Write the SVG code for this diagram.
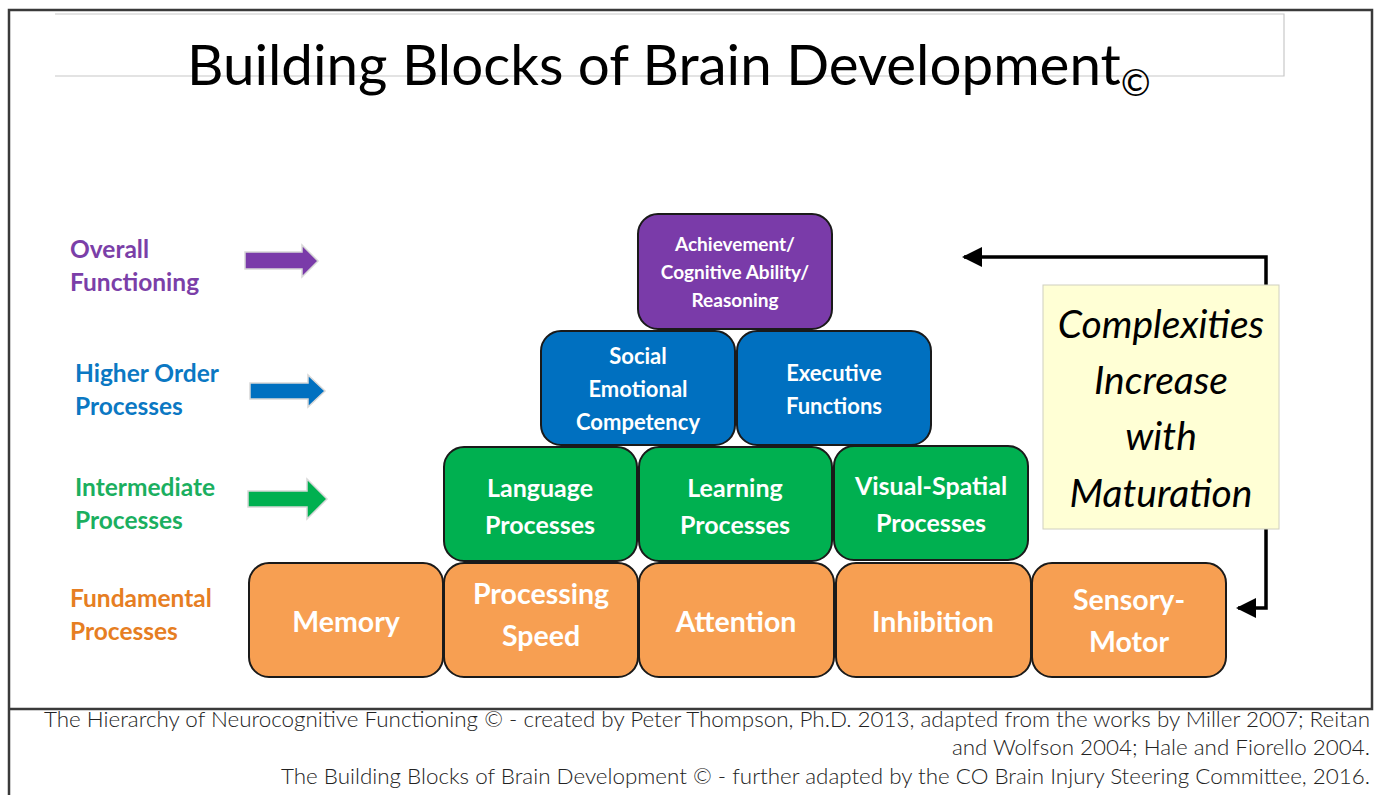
<svg xmlns="http://www.w3.org/2000/svg" width="1374" height="795" viewBox="0 0 1374 795">
<style>
.blk{stroke:#1a1a1a;stroke-width:2}
.or{fill:#F79F52}.gr{fill:#00B050}.bl{fill:#0070C0}.pu{fill:#7A3BA9}
.bt{font-family:Lato,"Liberation Sans",sans-serif;font-weight:bold;fill:#fff;text-anchor:middle}
.lab{font-family:Lato,"Liberation Sans",sans-serif;font-weight:bold;font-size:24.5px}
.ft{font-family:Lato,"Liberation Sans",sans-serif;font-size:22.4px;fill:#222;text-anchor:end;font-weight:300}
.con{stroke:#000;stroke-width:3.5;fill:none}
.ar{stroke:#d8d8d8;stroke-width:1.5}
</style>
<defs>
<marker id="ah" markerWidth="20" markerHeight="20" refX="18" refY="10" orient="auto" markerUnits="userSpaceOnUse"><path d="M0,0 L20,10 L0,20 Z" fill="#000"/></marker>
</defs>
<rect width="1374" height="795" fill="#fff"/>
<!-- frame -->
<path d="M9,795 V10 H1372 V709 H9" fill="none" stroke="#3a3a3a" stroke-width="2.5"/>
<path d="M55,14 H1284 V76 H55" fill="none" stroke="#c8c8c8" stroke-width="1.2"/>
<g id="title">
<text x="187" y="85" font-family="Lato,'Liberation Sans',sans-serif" font-size="56.5" fill="#000">Building Blocks of Brain Development<tspan font-size="36" dy="11">©</tspan></text>
</g>
<!-- left labels -->
<g id="label-overall"><text class="lab" fill="#7B3FA8" x="70" y="258">Overall</text><text class="lab" fill="#7B3FA8" x="70" y="291">Functioning</text>
<polygon class="ar" fill="#7A3BA9" points="245,252 302,252 302,245 318,261 302,277 302,269 245,269"/></g>
<g id="label-higher"><text class="lab" fill="#0B78C3" x="75" y="382">Higher Order</text><text class="lab" fill="#0B78C3" x="75" y="415">Processes</text>
<polygon class="ar" fill="#0070C0" points="250,383 308,383 308,375 325,391 308,407 308,399 250,399"/></g>
<g id="label-intermediate"><text class="lab" fill="#1BAF5F" x="75" y="496">Intermediate</text><text class="lab" fill="#1BAF5F" x="75" y="529">Processes</text>
<polygon class="ar" fill="#00B050" points="248,491 307,491 307,479 327,499 307,519 307,507 248,507"/></g>
<g id="label-fundamental"><text class="lab" fill="#E67E22" x="70" y="607">Fundamental</text><text class="lab" fill="#E67E22" x="70" y="640">Processes</text></g>
<!-- connectors -->
<g id="connectors">
<path class="con" d="M1266,285 V257 H964" marker-end="url(#ah)"/>
<path class="con" d="M1266,529 V608 H1238" marker-end="url(#ah)"/>
</g>
<g id="note">
<rect x="1043" y="285" width="236" height="244" fill="#FFFFD5" stroke="#d0d0c0" stroke-width="1"/>
<g font-family="Lato,'Liberation Sans',sans-serif" font-style="italic" font-size="39" text-anchor="middle" fill="#000">
<text x="1161" y="338">Complexities</text><text x="1161" y="394">Increase</text><text x="1161" y="450">with</text><text x="1161" y="507">Maturation</text></g>
</g>
<!-- blocks -->
<g id="memory"><rect class="blk or" x="249" y="563" width="194" height="114" rx="20"/><text class="bt" font-size="28.5" x="346" y="632">Memory</text></g>
<g id="processing-speed"><rect class="blk or" x="444" y="563" width="194" height="114" rx="20"/><text class="bt" font-size="28.5" x="541" y="604">Processing</text><text class="bt" font-size="28.5" x="541" y="646">Speed</text></g>
<g id="attention"><rect class="blk or" x="639" y="563" width="195" height="114" rx="20"/><text class="bt" font-size="28.5" x="736" y="632">Attention</text></g>
<g id="inhibition"><rect class="blk or" x="836" y="563" width="195" height="114" rx="20"/><text class="bt" font-size="28.5" x="933" y="632">Inhibition</text></g>
<g id="sensory-motor"><rect class="blk or" x="1032" y="563" width="194" height="114" rx="20"/><text class="bt" font-size="28.5" x="1129" y="610">Sensory-</text><text class="bt" font-size="28.5" x="1129" y="652">Motor</text></g>
<g id="language"><rect class="blk gr" x="444" y="447" width="193" height="114" rx="20"/><text class="bt" font-size="25" x="540" y="497">Language</text><text class="bt" font-size="25" x="540" y="534">Processes</text></g>
<g id="learning"><rect class="blk gr" x="639" y="447" width="193" height="114" rx="20"/><text class="bt" font-size="25" x="735" y="497">Learning</text><text class="bt" font-size="25" x="735" y="534">Processes</text></g>
<g id="visual-spatial"><rect class="blk gr" x="834" y="446" width="194" height="114" rx="20"/><text class="bt" font-size="25" x="931" y="495">Visual-Spatial</text><text class="bt" font-size="25" x="931" y="532">Processes</text></g>
<g id="social-emotional"><rect class="blk bl" x="541" y="331" width="194" height="114" rx="20"/><text class="bt" font-size="22" x="638" y="364">Social</text><text class="bt" font-size="22" x="638" y="397">Emotional</text><text class="bt" font-size="22" x="638" y="430">Competency</text></g>
<g id="executive"><rect class="blk bl" x="737" y="331" width="194" height="114" rx="20"/><text class="bt" font-size="22" x="834" y="381">Executive</text><text class="bt" font-size="22" x="834" y="414">Functions</text></g>
<g id="achievement"><rect class="blk pu" x="638" y="214" width="194" height="115" rx="20"/><text class="bt" font-size="19" x="735" y="251">Achievement/</text><text class="bt" font-size="19" x="735" y="279">Cognitive Ability/</text><text class="bt" font-size="19" x="735" y="307">Reasoning</text></g>
<!-- footer -->
<g id="footer">
<text class="ft" x="1370" y="727">The Hierarchy of Neurocognitive Functioning © - created by Peter Thompson, Ph.D. 2013, adapted from the works by Miller 2007; Reitan</text>
<text class="ft" x="1370" y="755">and Wolfson 2004; Hale and Fiorello 2004.</text>
<text class="ft" x="1370" y="784">The Building Blocks of Brain Development © - further adapted by the CO Brain Injury Steering Committee, 2016.</text>
</g>
</svg>
